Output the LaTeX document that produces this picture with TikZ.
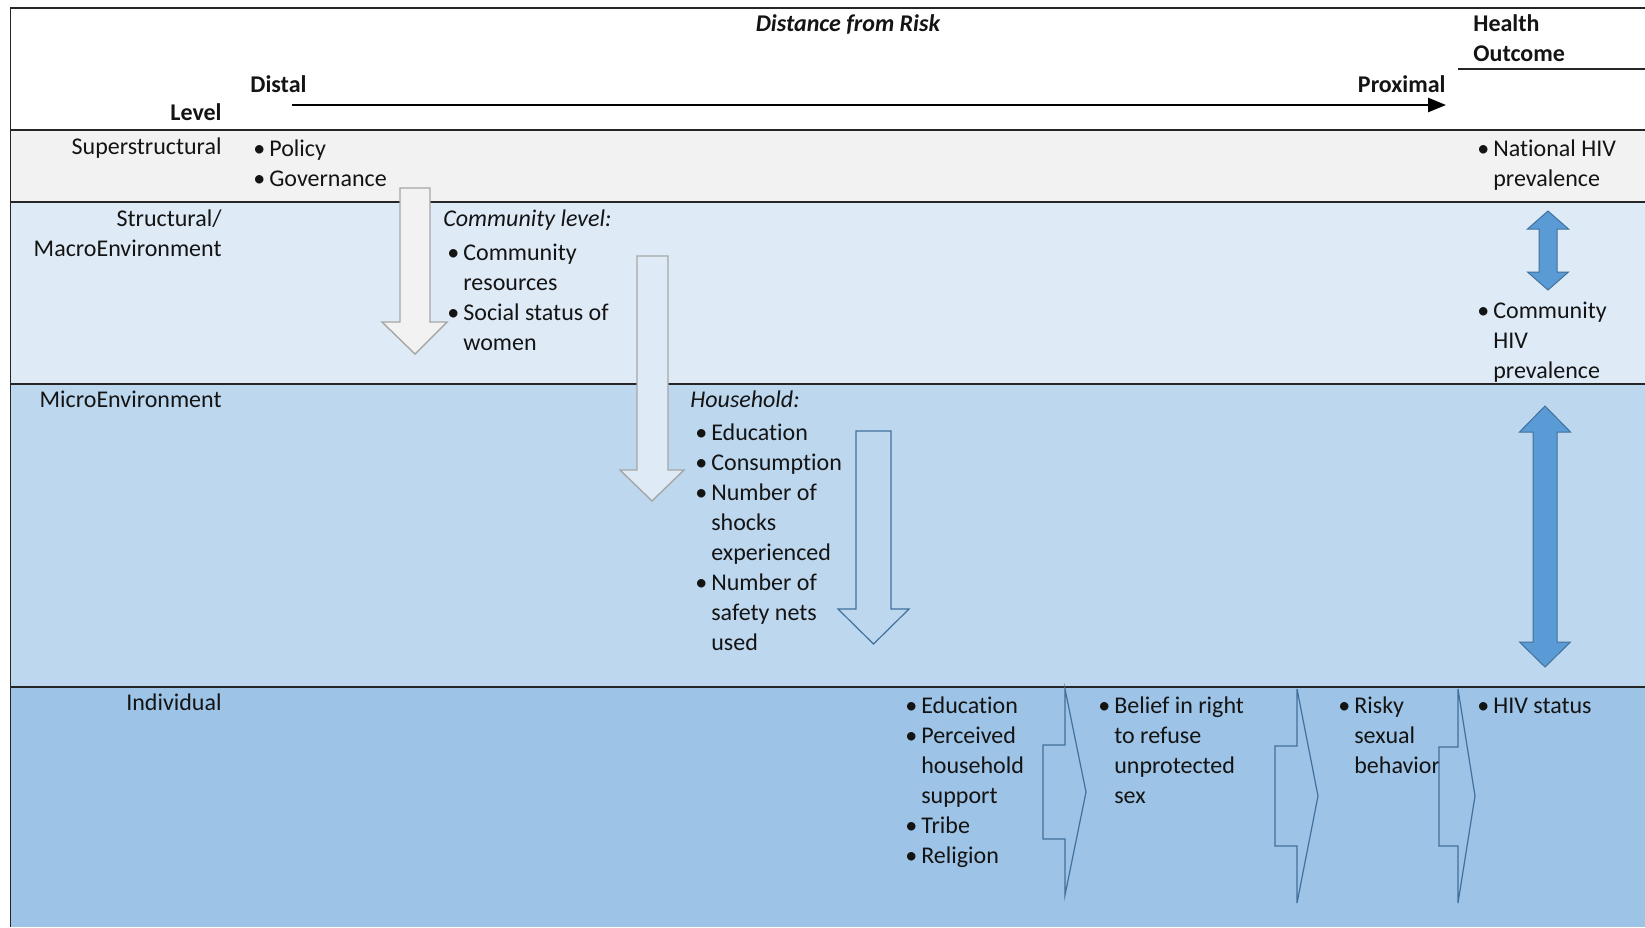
\documentclass[tikz,border=0pt]{standalone}
\usepackage{fontspec}
\setmainfont{Carlito}[Ligatures=NoCommon]
\usetikzlibrary{arrows.meta}
\definecolor{cSup}{HTML}{F2F2F2}
\definecolor{cStr}{HTML}{DEEBF7}
\definecolor{cMic}{HTML}{BDD7EE}
\definecolor{cInd}{HTML}{9DC3E6}
\definecolor{cBlue}{HTML}{5B9BD5}
\definecolor{cBlueD}{HTML}{41719C}
\definecolor{cLine}{HTML}{262626}
\definecolor{cGrayE}{HTML}{A6A6A6}
\begin{document}
\begin{tikzpicture}[x=0.5pt,y=-0.5pt,
  txt/.style={inner sep=0pt, yshift=-0.8pt, font=\fontsize{12}{15}\selectfont, text=black!92},
  lbl/.style={txt, anchor=base east},
  lst/.style={txt, anchor=base west},
  bandline/.style={draw=cLine, line width=0.85pt},
  grayarrow/.style={draw=cGrayE, line width=0.7pt},
  bluearrow/.style={draw=cBlueD, line width=0.6pt},
  dblarrow/.style={fill=cBlue, draw=cBlueD, line width=0.5pt}]
\useasboundingbox (0,0) rectangle (1645,927);
% bands
\fill[cSup] (10.5,130) rectangle (1645,202);
\fill[cStr] (10.5,202) rectangle (1645,384);
\fill[cMic] (10.5,384) rectangle (1645,687);
\fill[cInd] (10.5,687) rectangle (1645,927);
\draw[bandline] (10.5,927) -- (10.5,8) -- (1645,8);
\draw[bandline] (10.5,130) -- (1645,130);
\draw[bandline] (10.5,202) -- (1645,202);
\draw[bandline] (10.5,384) -- (1645,384);
\draw[bandline] (10.5,687) -- (1645,687);
\draw[bandline] (1458,69) -- (1645,69);

% header
\node[txt, anchor=base, font=\fontsize{12}{15}\selectfont\bfseries\itshape] (dist) at (848,30) {Distance from Risk};
\node[lst, font=\fontsize{12}{15}\selectfont\bfseries] (distal) at (250,91) {Distal};
\node[lbl, font=\fontsize{12}{15}\selectfont\bfseries] (prox) at (1446,91) {Proximal};
\node[lbl, font=\fontsize{12}{15}\selectfont\bfseries] (level) at (222,119) {Level};
\node[lst, font=\fontsize{12}{15}\selectfont\bfseries] (health) at (1473,30) {\begin{tabular}[t]{@{}l@{}}Health\\Outcome\end{tabular}};
\coordinate (aS) at (292,105);
\coordinate (aE) at (1446,105);
\draw[line width=1.3pt, -{Triangle[length=9pt,width=7pt]}] (aS) -- (aE);

% level labels
\node[lbl] (lsup) at (222,153) {Superstructural};
\node[lbl] (lstr) at (222,225) {\begin{tabular}[t]{@{}r@{}}Structural/\\MacroEnvironment\end{tabular}};
\node[lbl] (lmic) at (222,406) {MicroEnvironment};
\node[lbl] (lind) at (222,709) {Individual};

% block arrows (down)
\draw[grayarrow, fill=cSup] (400,188) -- (430,188) -- (430,322) -- (447,322) -- (415,354) -- (382,322) -- (400,322) -- cycle;
\draw[grayarrow, fill=cStr] (637,256) -- (668,256) -- (668,470) -- (684,470) -- (652,501) -- (620,470) -- (637,470) -- cycle;
\draw[bluearrow, fill=cMic] (856,431) -- (891,431) -- (891,609) -- (909,609) -- (873.5,644) -- (838,609) -- (856,609) -- cycle;

% lists
\node[lst] (sup) at (253,155) {\begin{tabular}[t]{@{}l@{\hspace{2pt}}l@{}}\textbullet&Policy\\\textbullet&Governance\end{tabular}};
\node[lst, font=\fontsize{12}{15}\selectfont\itshape] (comhd) at (443,225) {Community level:};
\node[lst] (com) at (447,259) {\begin{tabular}[t]{@{}l@{\hspace{2pt}}l@{}}\textbullet&Community\\&resources\\\textbullet&Social status of\\&women\end{tabular}};
\node[lst, font=\fontsize{12}{15}\selectfont\itshape] (hhhd) at (690,406) {Household:};
\node[lst] (hh) at (695,439) {\begin{tabular}[t]{@{}l@{\hspace{2pt}}l@{}}\textbullet&Education\\\textbullet&Consumption\\\textbullet&Number of\\&shocks\\&experienced\\\textbullet&Number of\\&safety nets\\&used\end{tabular}};
\node[lst] (ind) at (905,712) {\begin{tabular}[t]{@{}l@{\hspace{2pt}}l@{}}\textbullet&Education\\\textbullet&Perceived\\&household\\&support\\\textbullet&Tribe\\\textbullet&Religion\end{tabular}};
\node[lst] (bel) at (1098,712) {\begin{tabular}[t]{@{}l@{\hspace{2pt}}l@{}}\textbullet&Belief in right\\&to refuse\\&unprotected\\&sex\end{tabular}};
\node[lst] (risk) at (1338,712) {\begin{tabular}[t]{@{}l@{\hspace{2pt}}l@{}}\textbullet&Risky\\&sexual\\&behavior\end{tabular}};
\node[lst] (hiv) at (1477,712) {\begin{tabular}[t]{@{}l@{\hspace{2pt}}l@{}}\textbullet&HIV status\end{tabular}};
\node[lst] (nat) at (1477,155) {\begin{tabular}[t]{@{}l@{\hspace{2pt}}l@{}}\textbullet&National HIV\\&prevalence\end{tabular}};
\node[lst] (chiv) at (1477,317) {\begin{tabular}[t]{@{}l@{\hspace{2pt}}l@{}}\textbullet&Community\\&HIV\\&prevalence\end{tabular}};

% right chevron arrows
\draw[bluearrow] (1043,745) -- (1065,745) -- (1065,689) -- (1086,792) -- (1065,895) -- (1065,839) -- (1043,839) -- cycle;
\draw[bluearrow] (1275,746) -- (1297,746) -- (1297,689) -- (1318,796) -- (1297,903) -- (1297,846) -- (1275,846) -- cycle;
\draw[bluearrow] (1439,747) -- (1458,747) -- (1458,689) -- (1475,796) -- (1458,903) -- (1458,846) -- (1439,846) -- cycle;

% double arrows
\draw[dblarrow] (1548,211) -- (1568.5,229) -- (1557,229) -- (1557,272) -- (1568.5,272) -- (1548,290) -- (1527.5,272) -- (1539,272) -- (1539,229) -- (1527.5,229) -- cycle;
\draw[dblarrow] (1545,406) -- (1570.5,432) -- (1557,432) -- (1557,642) -- (1570.5,642) -- (1545,667) -- (1519.5,642) -- (1533,642) -- (1533,432) -- (1519.5,432) -- cycle;
\end{tikzpicture}
\end{document}
